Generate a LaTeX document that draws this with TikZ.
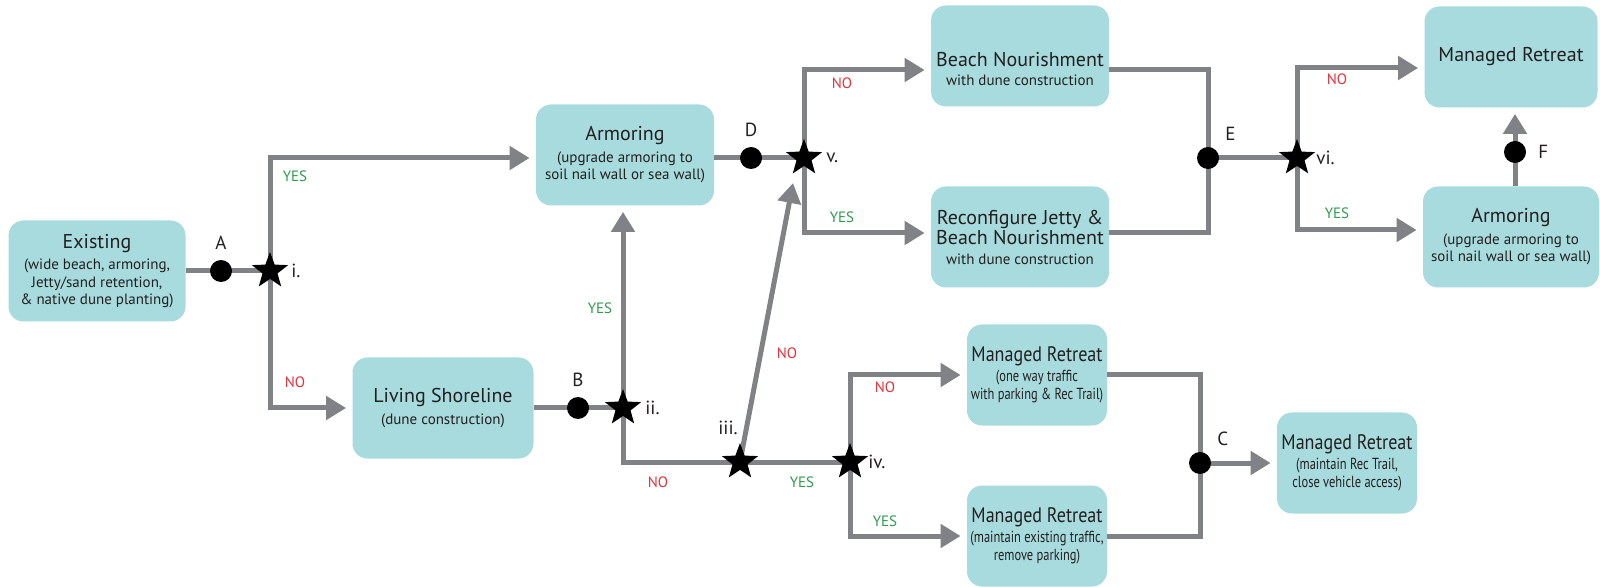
\documentclass[tikz,border=0pt]{standalone}
\usepackage{fontspec}
\setmainfont{PT Sans}
\newfontfamily\narrowfont[FakeStretch=0.86]{PT Sans}
\newfontfamily\condfont[FakeStretch=0.78]{PT Sans}
\usetikzlibrary{arrows.meta,shapes.geometric}
\definecolor{boxfill}{HTML}{A7DBDD}
\definecolor{linegray}{HTML}{808285}
\definecolor{yesgreen}{HTML}{2E9A4E}
\definecolor{nored}{HTML}{E4313A}
\definecolor{ink}{HTML}{231F20}
\newcommand{\ttl}[1]{{\fontsize{10}{12}\selectfont #1}}
\newcommand{\nttl}[1]{{\narrowfont\fontsize{10.5}{12}\selectfont #1}}

\begin{document}
\begin{tikzpicture}[x=0.5pt,y=-0.5pt,
    box/.style={fill=boxfill,rounded corners=7.5pt,minimum width=89pt,minimum height=50.5pt,
      inner sep=0pt,align=center,text=ink,font=\fontsize{7.5}{8.75}\selectfont},
    nbox/.style={box,minimum width=70pt,font=\condfont\fontsize{8}{9}\selectfont},
    wire/.style={draw=linegray,line width=2.5pt},
    flow/.style={wire,-{Triangle[length=10pt,width=11.5pt]},shorten >=3pt},
    dot/.style={circle,fill=black,minimum size=11pt,inner sep=0pt},
    dstar/.style={star,star points=5,star point ratio=2.4,fill=black,minimum size=19pt,inner sep=0pt},
    tag/.style={text=ink,font=\fontsize{9.5}{11}\selectfont,label distance=1.5pt},
    yes/.style={text=yesgreen,font=\fontsize{7.5}{9}\selectfont},
    no/.style={text=nored,font=\fontsize{7.5}{9}\selectfont}]
  \useasboundingbox (0,0) rectangle (1600,587);

  \node[box,minimum width=88.5pt] (exist) at (97,271) {\ttl{Existing}\\[2pt](wide beach, armoring,\\Jetty/sand retention,\\\& native dune planting)};
  \node[box] (arm1) at (625,155) {\ttl{Armoring}\\[2pt](upgrade armoring to\\soil nail wall or sea wall)};
  \node[box,minimum width=90.5pt] (living) at (443,408) {\ttl{Living Shoreline}\\[2pt](dune construction)};
  \node[box] (beach) at (1020,56) {\rule{0pt}{20pt}\ttl{Beach Nourishment}\\[1pt]with dune construction};
  \node[box] (reconf) at (1020,237) {\ttl{Reconfigure Jetty \&}\\\ttl{Beach Nourishment}\\[1pt]with dune construction};
  \node[box,minimum width=86.5pt] (mr1) at (1511,57) {\ttl{Managed Retreat}};
  \node[box,minimum width=88pt] (arm2) at (1511,237) {\ttl{Armoring}\\[2pt](upgrade armoring to\\soil nail wall or sea wall)};
  \node[nbox] (mrOne) at (1037,375) {\nttl{Managed Retreat}\\[1pt](one way traffic\\with parking \& Rec Trail)};
  \node[nbox] (mrTwo) at (1037,536) {\nttl{Managed Retreat}\\[1pt](maintain existing traffic,\\remove parking)};
  \node[nbox] (mrFin) at (1347,463) {\nttl{Managed Retreat}\\[1pt](maintain Rec Trail,\\close vehicle access)};

  \coordinate (A) at (221,271);
  \coordinate (B) at (578,408);
  \coordinate (C) at (1200,463);
  \coordinate (D) at (751,158);
  \coordinate (E) at (1208,158);
  \coordinate (F) at (1515,152);
  \coordinate (I) at (270,271);
  \coordinate (II) at (623,408);
  \coordinate (III) at (740,462);
  \coordinate (IV) at (850,462);
  \coordinate (V) at (804,158);
  \coordinate (VI) at (1297,158);
  \coordinate (tipV) at (793,183);

  \draw[wire] (exist.east) -- (I);
  \draw[flow] (I) |- (arm1.west |- D);
  \draw[flow] (I) |- (living.west);
  \draw[wire] (living.east) -- (II);
  \draw[flow] (II) -- (II |- arm1.south);
  \draw[wire] (II) |- (III) -- (IV);
  \draw[flow,shorten >=0pt] (III) -- (tipV);
  \draw[flow] (IV) |- (mrOne.west);
  \draw[flow] (IV) |- (mrTwo.west);
  \draw[wire] (mrOne.east) -| (C);
  \draw[wire] (mrTwo.east) -| (C);
  \draw[flow] (C) -- (mrFin.west);
  \draw[wire] (arm1.east |- D) -- (V);
  \draw[flow] (V) |- (beach.west |- 0,70);
  \draw[flow] (V) |- (reconf.west |- 0,233);
  \draw[wire] (beach.east |- 0,70) -| (E);
  \draw[wire] (reconf.east |- 0,233) -| (E);
  \draw[wire] (E) -- (VI);
  \draw[flow] (VI) |- (mr1.west |- 0,68);
  \draw[flow] (VI) |- (arm2.west |- 0,230);
  \draw[flow] (arm2.north -| F) -- (mr1.south -| F);

  \node[dot,label={[tag]above:A}] (dotA) at (A) {};
  \node[dot,label={[tag]above:B}] (dotB) at (B) {};
  \node[dot,label={[tag]above right:C}] (dotC) at (C) {};
  \node[dot,label={[tag]above:D}] (dotD) at (D) {};
  \node[dot,label={[tag]above right:E}] (dotE) at (E) {};
  \node[dot,label={[tag,label distance=2.5pt]right:F}] (dotF) at (F) {};
  \node[dstar,label={[tag,label distance=1.5pt]right:i.}] (starI) at (I) {};
  \node[dstar,label={[tag,label distance=2pt]right:ii.}] (starII) at (II) {};
  \node[dstar,label={[tag,xshift=-6pt,label distance=0pt]above:iii.}] (starIII) at (III) {};
  \node[dstar,label={[tag,label distance=0pt]right:iv.}] (starIV) at (IV) {};
  \node[dstar,label={[tag,label distance=2pt]right:v.}] (starV) at (V) {};
  \node[dstar,label={[tag,label distance=0.5pt]right:vi.}] (starVI) at (VI) {};

  \node[yes] (yes1) at (295,176) {YES};
  \node[no] (no1) at (295,382) {NO};
  \node[yes] (yes2) at (600,308) {YES};
  \node[no] (no2) at (787,353) {NO};
  \node[no] (no3) at (658,482) {NO};
  \node[yes] (yes3) at (802,482) {YES};
  \node[no] (no4) at (885,387) {NO};
  \node[yes] (yes4) at (885,521) {YES};
  \node[no] (no5) at (842,83) {NO};
  \node[yes] (yes5) at (842,217) {YES};
  \node[no] (no6) at (1337,79) {NO};
  \node[yes] (yes6) at (1337,213) {YES};
\end{tikzpicture}
\end{document}
